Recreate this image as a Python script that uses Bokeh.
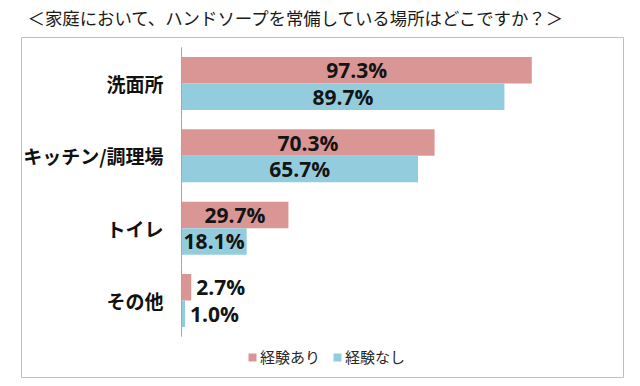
from bokeh.plotting import figure
from bokeh.models import (ColumnDataSource, FactorRange, Range1d, BoxAnnotation, Legend,
                          LegendItem, CDSView, BooleanFilter, Label)
from bokeh.transform import dodge
from bokeh.core.properties import value
from bokeh.embed import file_html
from bokeh.resources import INLINE

title_text = "＜家庭において、ハンドソープを常備している場所はどこですか？＞"
categories = ["洗面所", "キッチン/調理場", "トイレ", "その他"]
series_names = ["経験あり", "経験なし"]
with_exp = [97.3, 70.3, 29.7, 2.7]
without_exp = [89.7, 65.7, 18.1, 1.0]
colors = ["#D99694", "#93CDDD"]

JP = "Noto Sans CJK JP"
NUM = "Open Sans"

# layout (pixels)
W, H = 632, 384
FRAME_H = 383
AXIS_X = 181          # pixel position of the value axis origin
PX_PER_PCT = 3.6
BAND_PX = 72.33       # pixel height of one category band

source = ColumnDataSource(dict(
    cat=categories, a=with_exp, b=without_exp,
    a_half=[v / 2.0 for v in with_exp], b_half=[v / 2.0 for v in without_exp],
    a_txt=[f"{v:.1f}%" for v in with_exp], b_txt=[f"{v:.1f}%" for v in without_exp],
))

pad = (FRAME_H / BAND_PX - len(categories)) / 2.0
p = figure(
    width=W, height=H,
    x_range=Range1d(-AXIS_X / PX_PER_PCT, (W - AXIS_X) / PX_PER_PCT),
    y_range=FactorRange(factors=categories[::-1], range_padding=pad,
                        range_padding_units="absolute"),
    output_backend="svg", toolbar_location=None,
    x_axis_location=None, y_axis_location=None,
    min_border=0, min_border_bottom=H - FRAME_H,
)
p.outline_line_color = None
p.xgrid.visible = False
p.ygrid.visible = False
p.background_fill_color = "white"
p.border_fill_color = "white"

off = 0.183
hgt = 0.366
r1 = p.hbar(y=dodge("cat", off, range=p.y_range), left=0, right="a", height=hgt,
            fill_color=colors[0], line_color=None, source=source)
r2 = p.hbar(y=dodge("cat", -off, range=p.y_range), left=0, right="b", height=hgt,
            fill_color=colors[1], line_color=None, source=source)

# category axis line and labels
p.segment(x0=0, x1=0, y0=dodge("cat", 0.5, range=p.y_range), y1=dodge("cat", -0.5, range=p.y_range),
          line_color="#A6A6A6", line_width=1, source=source)
p.text(x=0, y="cat", text="cat", x_offset=-18, text_align="right", text_baseline="middle",
       text_font=value(JP), text_font_style="bold", text_font_size="19px",
       text_color="#111111", source=source)

for col, half, tcol, o in [("a", "a_half", "a_txt", off), ("b", "b_half", "b_txt", -off)]:
    vals = source.data[col]
    inside = CDSView(filter=BooleanFilter([v >= 10 for v in vals]))
    outside = CDSView(filter=BooleanFilter([v < 10 for v in vals]))
    p.text(x=half, y=dodge("cat", o, range=p.y_range), text=tcol,
           text_align="center", text_baseline="middle",
           text_font=value(NUM), text_font_style="bold", text_font_size="21px",
           text_color="#141414", source=source, view=inside)
    p.text(x=col, y=dodge("cat", o, range=p.y_range), text=tcol,
           text_align="left", x_offset=5, text_baseline="middle",
           text_font=value(NUM), text_font_style="bold", text_font_size="21px",
           text_color="#141414", source=source, view=outside)

title = Label(x=27, y=FRAME_H - 16.5, x_units="screen", y_units="screen",
              text=title_text, text_align="left", text_baseline="middle",
              text_font=JP, text_font_size="17.4px", text_color="#1a1a1a")
p.add_layout(title)

legend = Legend(
    items=[LegendItem(label=series_names[0], renderers=[r1]),
           LegendItem(label=series_names[1], renderers=[r2])],
    orientation="horizontal", location=(247, FRAME_H - 367),
    glyph_width=10, glyph_height=10, label_standoff=3, spacing=12,
    padding=0, margin=0, border_line_color=None, background_fill_alpha=0,
    label_text_font=JP, label_text_font_size="15px", label_text_color="#262626",
)
p.add_layout(legend)

box = BoxAnnotation(left=21, right=623, top=FRAME_H - 37, bottom=FRAME_H - 377,
                    left_units="screen", right_units="screen",
                    top_units="screen", bottom_units="screen",
                    fill_color=None, line_color="#BFBFBF", line_width=1,
                    line_alpha=1, line_dash="solid")
p.add_layout(box)

open("out.html", "w").write(file_html(p, INLINE))
